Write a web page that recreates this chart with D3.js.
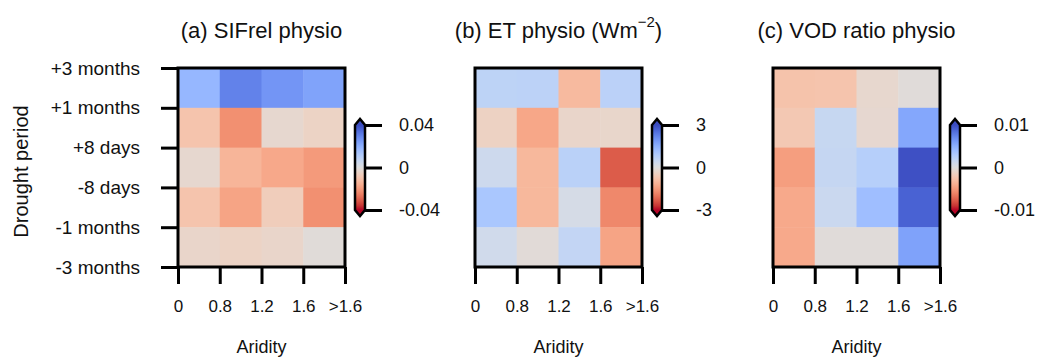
<!DOCTYPE html>
<html>
<head>
<meta charset="utf-8">
<script src="https://cdn.jsdelivr.net/npm/d3@7"></script>
<style>
    body { margin: 0; background: #fff; }
    text { font-family: Arial, "Liberation Sans", sans-serif; fill: #111; }
</style>
</head>
<body>
<div id="chart-container"></div>
<script>
// Row tick labels (boundaries, top to bottom) and aridity bins
const periodLabels = ['+3 months', '+1 months', '+8 days', '-8 days', '-1 months', '-3 months'];
const aridityLabels = ['0', '0.8', '1.2', '1.6', '>1.6'];

// Cell values, rows top -> bottom, columns by aridity bin
const sifrelPhysio = [
    [0.018, 0.030, 0.026, 0.023],
    [-0.010, -0.022, -0.003, -0.005],
    [-0.003, -0.014, -0.017, -0.020],
    [-0.010, -0.018, -0.007, -0.022],
    [-0.004, -0.005, -0.004, -0.001]
];
const etPhysio = [
    [0.65, 0.68, -0.95, 0.70],
    [-0.40, -1.30, -0.30, -0.28],
    [0.35, -1.00, 0.72, -2.30],
    [1.00, -1.00, 0.18, -1.75],
    [0.30, -0.10, 0.55, -1.35]
];
const vodPhysio = [
    [-0.0026, -0.0025, -0.0008, -0.0002],
    [-0.0022, 0.0016, -0.0007, 0.0055],
    [-0.0048, 0.0017, 0.0026, 0.0098],
    [-0.0042, 0.0014, 0.0040, 0.0090],
    [-0.0042, -0.0002, -0.0002, 0.0058]
];

const panels = [
    { id: 'a', title: '(a) SIFrel physio', values: sifrelPhysio, vmax: 0.04, cbTicks: ['-0.04', '0', '0.04'] },
    { id: 'b', title: '(b) ET physio (Wm', sup: '\u22122', titleEnd: ')', values: etPhysio, vmax: 3, cbTicks: ['-3', '0', '3'] },
    { id: 'c', title: '(c) VOD ratio physio', values: vodPhysio, vmax: 0.01, cbTicks: ['-0.01', '0', '0.01'] }
];

// matplotlib "coolwarm" control points (Moreland)
const coolwarm = [
    [59,76,192],[68,90,204],[77,104,215],[87,117,225],[98,130,234],[108,142,241],[119,154,247],
    [130,165,251],[141,176,254],[152,185,255],[163,194,255],[174,201,253],[184,208,249],[194,213,244],
    [204,217,238],[213,219,230],[221,221,221],[229,216,209],[236,211,197],[241,204,185],[245,196,173],
    [247,187,160],[247,177,148],[247,166,135],[244,154,123],[241,141,111],[236,127,99],[229,112,88],
    [222,96,77],[213,80,66],[203,62,56],[192,40,47],[180,4,38]
].map(c => d3.rgb(c[0], c[1], c[2]).toString());
const cw = d3.piecewise(d3.interpolateRgb, coolwarm);

const W = 1041, H = 358;
const plotW = 167, plotH = 199;
const plotTop = 68;
const lefts = [178, 475, 773];
const FONT = 'Arial, "Liberation Sans", sans-serif';

const svg = d3.select('#chart-container')
    .append('svg')
    .attr('width', W)
    .attr('height', H);

const defs = svg.append('defs');

panels.forEach((p, pi) => {
    const g = svg.append('g')
        .attr('transform', `translate(${lefts[pi]},${plotTop})`);

    const xBand = d3.scaleBand().domain(d3.range(4)).range([0, plotW]);
    const yBand = d3.scaleBand().domain(d3.range(5)).range([0, plotH]);
    const xTick = d3.scalePoint().domain(aridityLabels).range([0, plotW]);
    const yTick = d3.scalePoint().domain(periodLabels).range([0, plotH]);

    // reversed coolwarm: positive = blue
    const color = v => cw(Math.max(0, Math.min(1, 0.5 - v / (2 * p.vmax))));

    // cells
    p.values.forEach((row, r) => {
        row.forEach((v, c) => {
            g.append('rect')
                .attr('x', xBand(c))
                .attr('y', yBand(r))
                .attr('width', xBand.bandwidth() + 0.5)
                .attr('height', yBand.bandwidth() + 0.5)
                .attr('fill', color(v));
        });
    });

    // frame
    g.append('rect')
        .attr('width', plotW)
        .attr('height', plotH)
        .attr('fill', 'none')
        .attr('stroke', '#000')
        .attr('stroke-width', 3);

    // x axis
    const xAxis = g.append('g')
        .attr('transform', `translate(0,${plotH})`)
        .call(d3.axisBottom(xTick).tickSize(17).tickPadding(16));
    xAxis.select('.domain').remove();
    xAxis.selectAll('line').attr('stroke', '#000').attr('stroke-width', 3);
    xAxis.selectAll('text')
        .attr('font-size', 17)
        .attr('fill', '#111')
        .style('font-family', FONT);

    g.append('text')
        .attr('x', plotW / 2)
        .attr('y', 285)
        .attr('text-anchor', 'middle')
        .attr('font-size', 18)
        .text('Aridity');

    // y axis only on first panel
    if (pi === 0) {
        const yAxis = g.append('g')
            .call(d3.axisLeft(yTick).tickSize(17).tickPadding(21));
        yAxis.select('.domain').remove();
        yAxis.selectAll('line').attr('stroke', '#000').attr('stroke-width', 3);
        yAxis.selectAll('text')
            .attr('font-size', 19)
            .attr('fill', '#111')
            .style('font-family', FONT);

        g.append('text')
            .attr('transform', `translate(${-150},${plotH / 2 + 4}) rotate(-90)`)
            .attr('text-anchor', 'middle')
            .attr('font-size', 20)
            .text('Drought period');
    }

    // title
    const t = g.append('text')
        .attr('x', plotW / 2)
        .attr('y', -30)
        .attr('text-anchor', 'middle')
        .attr('font-size', 22)
        .text(p.title);
    if (p.sup) {
        t.append('tspan').attr('dy', -11).attr('font-size', 15).text(p.sup);
        t.append('tspan').attr('dy', 11).text(p.titleEnd);
    }

    // colorbar
    const cbX = plotW + 10, cbW = 10;
    const cbScale = d3.scaleLinear().domain([-p.vmax, p.vmax]).range([142, 57]);
    const tip = 6;
    const grad = defs.append('linearGradient')
        .attr('id', `cb-${p.id}`)
        .attr('x1', 0).attr('y1', 0).attr('x2', 0).attr('y2', 1);
    d3.range(0, 1.0001, 0.05).forEach(s => {
        grad.append('stop').attr('offset', s).attr('stop-color', cw(s));
    });
    const cb = g.append('g').attr('transform', `translate(${cbX},0)`);
    const y0 = cbScale(p.vmax), y1 = cbScale(-p.vmax);
    cb.append('rect')
        .attr('x', 0).attr('y', y0)
        .attr('width', cbW).attr('height', y1 - y0)
        .attr('fill', `url(#cb-${p.id})`);
    cb.append('path')
        .attr('d', `M0,${y0}L${cbW / 2},${y0 - tip}L${cbW},${y0}Z`)
        .attr('fill', cw(0));
    cb.append('path')
        .attr('d', `M0,${y1}L${cbW / 2},${y1 + tip}L${cbW},${y1}Z`)
        .attr('fill', cw(1));
    cb.append('path')
        .attr('d', `M0,${y0}L${cbW / 2},${y0 - tip}L${cbW},${y0}L${cbW},${y1}L${cbW / 2},${y1 + tip}L0,${y1}Z`)
        .attr('fill', 'none')
        .attr('stroke', '#000')
        .attr('stroke-width', 2.5)
        .attr('stroke-linejoin', 'miter');

    const cbAxis = cb.append('g')
        .attr('transform', `translate(${cbW},0)`)
        .call(d3.axisRight(cbScale)
            .tickValues([-p.vmax, 0, p.vmax])
            .tickFormat((d, i) => p.cbTicks[i])
            .tickSize(17).tickPadding(17));
    cbAxis.select('.domain').remove();
    cbAxis.selectAll('line').attr('stroke', '#000').attr('stroke-width', 3);
    cbAxis.selectAll('text')
        .attr('font-size', 18)
        .attr('fill', '#111')
        .style('font-family', FONT);
});
</script>
</body>
</html>
